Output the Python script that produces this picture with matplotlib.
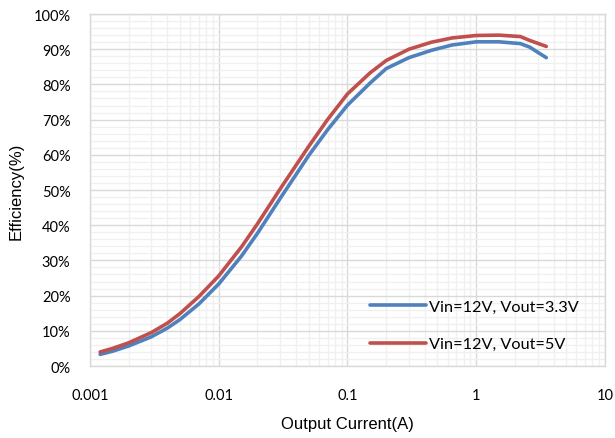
import matplotlib
matplotlib.use("Agg")
import matplotlib.pyplot as plt
from matplotlib.ticker import FixedLocator, LogLocator, NullFormatter, FuncFormatter

# Data
current = [0.0012, 0.0015, 0.002, 0.003, 0.004, 0.005, 0.007, 0.01, 0.015, 0.02,
           0.03, 0.05, 0.07, 0.1, 0.15, 0.2, 0.3, 0.45, 0.65, 1.0,
           1.5, 2.2, 2.6, 3.5]
eff_33 = [3.3, 4.2, 5.7, 8.3, 10.8, 13.2, 17.6, 23.3, 31.2, 37.7,
          47.6, 59.8, 67.1, 74.1, 80.4, 84.5, 87.6, 89.7, 91.2, 92.1,
          92.1, 91.6, 90.6, 87.6]
eff_5 = [4.0, 5.0, 6.6, 9.5, 12.2, 14.9, 19.7, 25.6, 33.8, 40.4,
         50.3, 62.4, 70.0, 77.3, 83.3, 86.8, 90.0, 92.0, 93.2, 93.9,
         94.0, 93.6, 92.5, 90.8]
labels = ["Vin=12V, Vout=3.3V", "Vin=12V, Vout=5V"]
x_ticks = [0.001, 0.01, 0.1, 1, 10]
x_tick_labels = ["0.001", "0.01", "0.1", "1", "10"]
y_ticks = list(range(0, 101, 10))

tick_font = "Lato"
label_font = "Liberation Sans"

fig = plt.figure(figsize=(6.15, 4.39), dpi=100)
ax = fig.add_axes([0.1463, 0.164, 0.8374, 0.8018])

ax.plot(current, eff_33, color="#4F81BD", lw=2.6, label=labels[0], solid_capstyle="round",
        solid_joinstyle="round", zorder=3)
ax.plot(current, eff_5, color="#C0504D", lw=2.6, label=labels[1], solid_capstyle="round",
        solid_joinstyle="round", zorder=3)

ax.set_xscale("log")
ax.set_xlim(0.001, 10)
ax.set_ylim(0, 100)

ax.xaxis.set_major_locator(FixedLocator(x_ticks))
ax.set_xticks(x_ticks)
ax.set_xticklabels(x_tick_labels)
ax.xaxis.set_minor_locator(LogLocator(base=10, subs=range(2, 10), numticks=20))
ax.xaxis.set_minor_formatter(NullFormatter())

ax.set_yticks(y_ticks)
ax.yaxis.set_major_formatter(FuncFormatter(lambda v, p: f"{int(v)}%"))
ax.set_yticks(list(range(0, 101, 2)), minor=True)

ax.grid(True, which="major", color="#d9d9d9", lw=1.0, zorder=1)
ax.grid(True, which="minor", color="#f0f0f0", lw=1.0, zorder=0)
ax.set_axisbelow(True)

for s in ax.spines.values():
    s.set_color("#d9d9d9")
    s.set_linewidth(1.0)

ax.tick_params(which="both", length=0)
ax.tick_params(axis="x", pad=16)
ax.tick_params(axis="y", pad=14)
for lab in ax.get_xticklabels() + ax.get_yticklabels():
    lab.set_fontfamily(tick_font)
    lab.set_fontsize(10.5)
    lab.set_color("#000000")

ax.set_xlabel("Output Current(A)", fontsize=12, family=label_font, labelpad=10)
ax.set_ylabel("Efficiency(%)", fontsize=12, family=label_font, labelpad=7)

leg = ax.legend(loc="lower left", bbox_to_anchor=(0.515, 0.0), frameon=False,
                handlelength=3.45, handletextpad=0.2, labelspacing=1.45,
                prop={"family": tick_font, "size": 11.7})

fig.savefig("out.png", dpi=100)
